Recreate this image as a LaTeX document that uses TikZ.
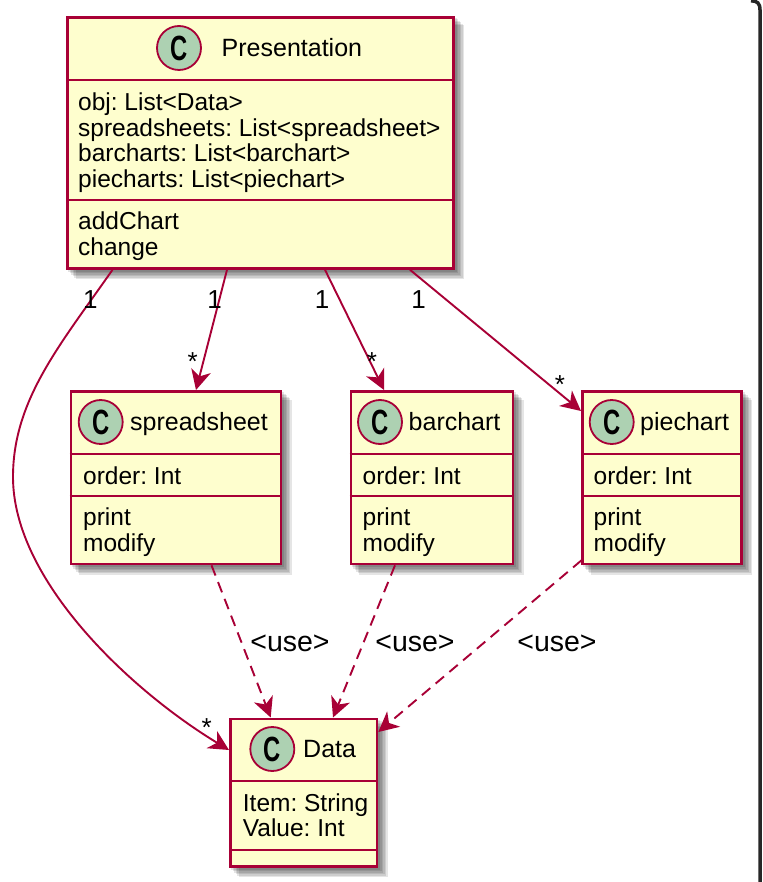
\documentclass[tikz,border=0pt]{standalone}
\usepackage{fontspec}
\setmainfont{Liberation Sans}
\usetikzlibrary{arrows.meta,calc}
\definecolor{umlred}{HTML}{A80036}
\definecolor{umlfill}{HTML}{FEFECE}
\definecolor{umlcirc}{HTML}{ADD1B2}
\pgfdeclarelayer{bg}
\pgfsetlayers{bg,main}
\frenchspacing
\tikzset{
  cls/.style={draw=umlred, fill=umlfill, line width=2.8pt, inner sep=0pt, anchor=north west},
  divline/.style={draw=umlred, line width=2.6pt},
  circ/.style={circle, draw=umlred, fill=umlcirc, line width=1.8pt, minimum size=44pt, inner sep=0pt,
    font=\fontsize{35}{35}\selectfont\bfseries},
  cname/.style={anchor=base west, inner sep=0pt, font=\fontsize{25}{25}\selectfont},
  txt/.style={anchor=base west, inner sep=0pt, font=\fontsize{24.5}{25}\selectfont},
  lbl/.style={inner sep=0pt, font=\fontsize{26}{26}\selectfont},
  uselbl/.style={inner sep=0pt, font=\fontsize{28.5}{28}\selectfont},
  assoc/.style={draw=umlred, line width=1.9pt, -{Stealth[length=20pt,width=20pt,inset=6pt]}},
  dep/.style={assoc, dash pattern=on 11pt off 7pt},
}
\newcommand{\cglyph}{\raisebox{-1pt}{\scalebox{0.68}[1]{C}}}
\begin{document}
\begin{tikzpicture}[x=1pt,y=-1pt]
\useasboundingbox (0,0) rectangle (762,882);

% ---- boxes
\node[cls, minimum width=386, minimum height=251] (p) at (66,16) {};
\node[cls, minimum width=210, minimum height=172.5] (s) at (69.5,390) {};
\node[cls, minimum width=162, minimum height=172.5] (b) at (349.5,390) {};
\node[cls, minimum width=159, minimum height=172.5] (c) at (581,390) {};
\node[cls, minimum width=146.5, minimum height=147.5] (d) at (229,717.5) {};

% background and shadows
\begin{pgfonlayer}{bg}
\fill[white] (0,0) rectangle (762,882);
\foreach \n in {p,s,b,c,d}{
  \foreach \o in {2,3.5,5,6.5,8,9.5}{
    \fill[black, opacity=0.1] ($(\n.north west)+(\o,\o)$) rectangle ($(\n.south east)+(\o,\o)$);
  }
}
\end{pgfonlayer}
% window frame on the right
\draw[line width=3.5pt, color=black!85] (751,0.8) .. controls (757,0.8) and (760,3) .. (760,10) -- (760,882);

% dividers
\draw[divline] ($(p.north west)+(0,64)$) -- ($(p.north east)+(0,64)$);
\draw[divline] ($(p.north west)+(0,184)$) -- ($(p.north east)+(0,184)$);
\foreach \n in {s,b,c}{
  \draw[divline] ($(\n.north west)+(0,64)$) -- ($(\n.north east)+(0,64)$);
  \draw[divline] ($(\n.north west)+(0,106)$) -- ($(\n.north east)+(0,106)$);
}
\draw[divline] ($(d.north west)+(0,63.5)$) -- ($(d.north east)+(0,63.5)$);
\draw[divline] ($(d.north west)+(0,132.5)$) -- ($(d.north east)+(0,132.5)$);

% ---- Presentation
\node[circ] (pc) at (179,48) {\cglyph};
\node[cname] (pn) at (221.5,56.5) {Presentation};
\node[txt] (pa1) at (78,111) {obj: List<Data>};
\node[txt] (pa2) at (78,136.5) {spreadsheets: List<spreadsheet>};
\node[txt] (pa3) at (78,162) {barcharts: List<barchart>};
\node[txt] (pa4) at (78,188) {piecharts: List<piechart>};
\node[txt] (pm1) at (78,230) {addChart};
\node[txt] (pm2) at (78,255.5) {change};

% ---- spreadsheet
\node[circ] (sc) at (100.7,422) {\cglyph};
\node[cname] (sn) at (130,430.5) {spreadsheet};
\node[txt] (sa1) at (83,484.5) {order: Int};
\node[txt] (sm1) at (83,525.5) {print};
\node[txt] (sm2) at (83,551.5) {modify};

% ---- barchart
\node[circ] (bc) at (380,422) {\cglyph};
\node[cname] (bn) at (408.5,430.5) {barchart};
\node[txt] (ba1) at (362.5,484.5) {order: Int};
\node[txt] (bm1) at (362.5,525.5) {print};
\node[txt] (bm2) at (362.5,551.5) {modify};

% ---- piechart
\node[circ] (cc) at (611.7,422) {\cglyph};
\node[cname] (cn) at (640,430.5) {piechart};
\node[txt] (ca1) at (593.5,484.5) {order: Int};
\node[txt] (cm1) at (593.5,525.5) {print};
\node[txt] (cm2) at (593.5,551.5) {modify};

% ---- Data
\node[circ] (dc) at (272.3,749) {\cglyph};
\node[cname] (dn) at (303,757.5) {Data};
\node[txt] (da1) at (242.7,811.5) {Item: String};
\node[txt] (da2) at (242.7,836.5) {Value: Int};

% ---- associations
\draw[assoc] ($(p.south west)+(46.5,0)$) .. controls (60,345) and (13,400) .. (13,477)
   .. controls (13,580) and (130,690) .. ($(d.north west)+(0,32.5)$);
\draw[assoc] ($(p.south west)+(161,0)$) -- ($(s.north west)+(126.5,0)$);
\draw[assoc] ($(p.south west)+(259,0)$) -- ($(b.north west)+(34.5,0)$);
\draw[assoc] ($(p.south west)+(344,0)$) -- ($(c.north west)+(0,21)$);

\draw[dep] ($(s.south west)+(142,0)$) -- ($(d.north west)+(41.7,0)$);
\draw[dep] ($(b.south west)+(45.5,0)$) -- ($(d.north west)+(104,0)$);
\draw[dep] ($(c.south west)+(0.5,-5)$) -- ($(d.north east)+(0,14.5)$);

% ---- multiplicities
\node[lbl] (m1) at (90.3,299.5) {1};
\node[lbl] (m2) at (214.5,299.5) {1};
\node[lbl] (m3) at (322,299.5) {1};
\node[lbl] (m4) at (418.6,299.5) {1};
\node[lbl, anchor=base] (s1) at (192.7,370) {*};
\node[lbl, anchor=base] (s2) at (372,370) {*};
\node[lbl, anchor=base] (s3) at (560,393) {*};
\node[lbl, anchor=base] (s4) at (206.7,736) {*};

% ---- use labels
\node[uselbl] (u1) at (290,643) {<use>};
\node[uselbl] (u2) at (415,643) {<use>};
\node[uselbl] (u3) at (557,643) {<use>};
\end{tikzpicture}
\end{document}
